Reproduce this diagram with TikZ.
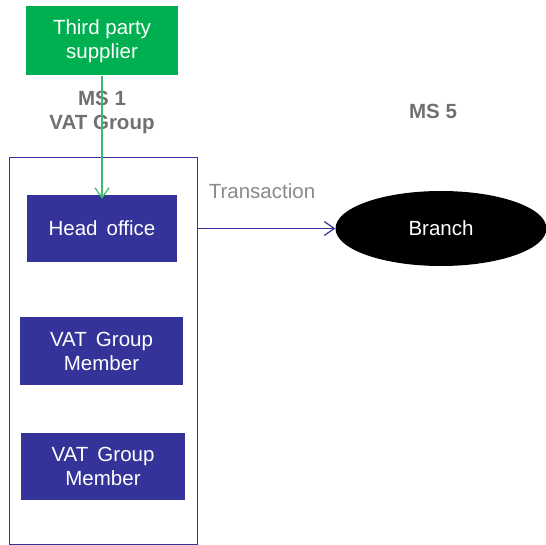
\documentclass[tikz,border=0pt]{standalone}
\usepackage{fontspec}
\setmainfont{Liberation Sans}
\usetikzlibrary{arrows.meta,shapes.geometric}
\definecolor{navy}{HTML}{333399}
\definecolor{leaf}{HTML}{00B050}
\definecolor{leafline}{HTML}{3DBA6E}
\definecolor{labelgray}{HTML}{707070}
\definecolor{softgray}{HTML}{8A8A8A}
\tikzset{
  txt/.style={font=\fontsize{20.5}{24}\selectfont, align=center, inner sep=0pt},
  entity/.style={txt, rectangle, fill=navy, text=white},
  supplierbox/.style={txt, rectangle, fill=leaf, text=white},
  mslabel/.style={txt, text=labelgray, font=\fontsize{20.5}{24}\selectfont\bfseries},
  flow/.style={line width=1.2pt, -{Straight Barb[length=10pt,width=14pt]}}
}
\begin{document}
\begin{tikzpicture}[x=1pt,y=-1pt]
\useasboundingbox (0,0) rectangle (546,545);
% group frame
\node[draw=navy, line width=1pt, minimum width=188pt, minimum height=386pt, inner sep=0pt] (grp) at (103,351) {};
% supplier
\node[supplierbox, minimum width=152pt, minimum height=69pt] (tp) at (102,41) {Third party\\supplier};
% member entities
\node[entity, minimum width=150pt, minimum height=67pt] (ho) at (102,228.5) {Head\, office};
\node[entity, minimum width=163pt, minimum height=68pt] (m1) at (101.5,351) {VAT\, Group\\Member};
\node[entity, minimum width=164pt, minimum height=67pt] (m2) at (103,466.5) {VAT\, Group\\Member};
% branch abroad
\node[ellipse, fill=black, text=white, txt, minimum width=211pt, minimum height=75pt] (br) at (441,228.5) {Branch};
% labels
\node[mslabel] (ms1) at (102,112) {MS 1\\VAT Group};
\node[mslabel] (ms5) at (433,111) {MS 5};
\node[txt, text=softgray] (tr) at (262,191) {Transaction};
% connectors
\draw[flow, draw=leafline] (tp.south) -- ([yshift=-4pt]ho.north);
\draw[flow, draw=navy] (grp.east |- ho.center) -- (br.west);
\end{tikzpicture}
\end{document}
